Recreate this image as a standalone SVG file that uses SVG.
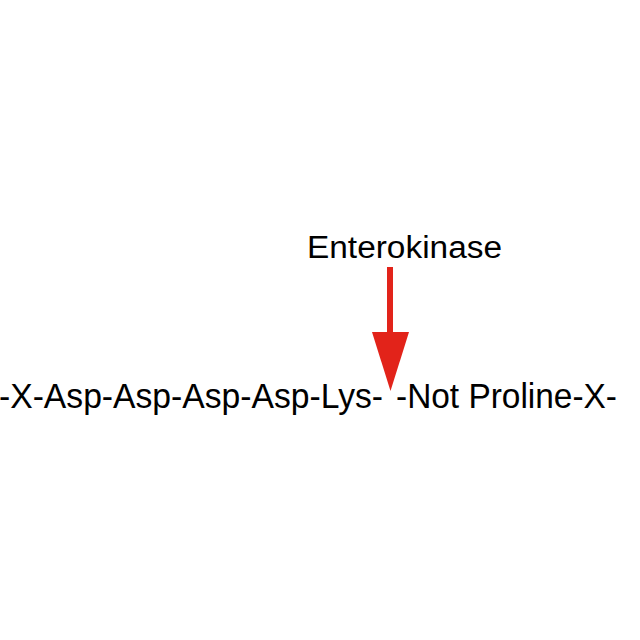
<svg xmlns="http://www.w3.org/2000/svg" width="640" height="640" viewBox="0 0 640 640">
<style>
text{font-family:"Liberation Sans",Arial,sans-serif;fill:#000}
.big{font-size:35px}
.arrow{fill:#e2231a}
</style>
<rect width="640" height="640" fill="#fff"/>
<g id="label-enzyme"><text x="307" y="258" font-size="31" textLength="195" lengthAdjust="spacingAndGlyphs">Enterokinase</text></g>
<g id="connectors">
<rect class="arrow" x="387" y="267" width="6" height="66"/>
<polygon class="arrow" points="372,332 409,332 390.5,391"/>
</g>
<g id="sequence-left"><text class="big" x="-1" y="408" textLength="384" lengthAdjust="spacingAndGlyphs">-X-Asp-Asp-Asp-Asp-Lys-</text></g>
<g id="sequence-right"><text class="big" x="396" y="408" textLength="221" lengthAdjust="spacingAndGlyphs">-Not Proline-X-</text></g>
</svg>
